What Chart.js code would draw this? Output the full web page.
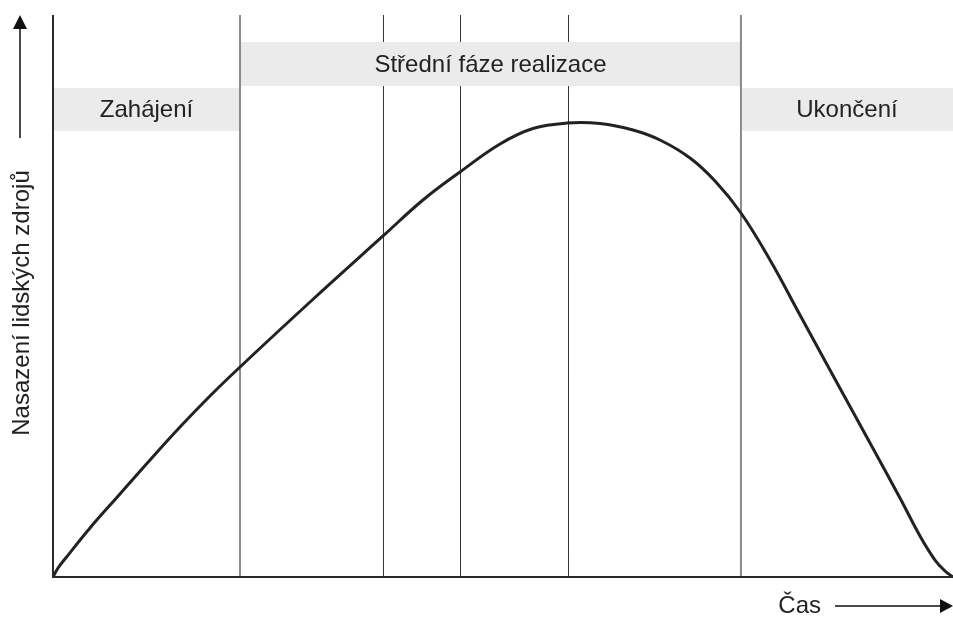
<!DOCTYPE html>
<html>
<head>
<meta charset="utf-8">
<script src="https://cdn.jsdelivr.net/npm/chart.js@4/dist/chart.umd.min.js"></script>
<style>
  html, body { margin: 0; padding: 0; background: #fff; }
  #wrap { width: 953px; height: 617px; }
</style>
</head>
<body>
<div id="wrap"><canvas id="c" width="953" height="617"></canvas></div>
<script>
// ── data ──
const timeX    = [0, 0.56, 1.33, 4.11, 7.44, 10.78, 14.11, 17.44, 20.78, 28.56, 36.67, 41.11, 45.22, 49.67, 53.33, 57.11, 60.78, 64.44, 67.44, 70.78, 73.56, 76.44, 79.67, 83.0, 86.33, 90.78, 94.11, 96.33, 98.0, 99.11, 100];
const staffing = [0, 1.6, 3.2, 8.72, 14.77, 20.82, 26.69, 32.21, 37.37, 48.93, 60.68, 67.08, 72.06, 77.05, 79.8, 80.78, 80.69, 79.54, 77.76, 74.56, 70.46, 64.77, 56.41, 46.62, 36.83, 23.84, 14.06, 7.3, 3.02, 1.07, 0];

const phaseNames = ['Zahájení', 'Střední fáze realizace', 'Ukončení'];
const phaseStart = [0, 20.78, 76.44];
const phaseEnd   = [20.78, 76.44, 100];
const majorBounds = [20.78, 76.44];
const minorBounds = [36.72, 45.28, 57.28];

const yTitle = 'Nasazení lidských zdrojů';
const xTitle = 'Čas';

const INK = '#222';
const FONT = '24px "Liberation Sans", Arial, sans-serif';

function vline(x, color, width) {
    return {
        type: 'line',
        data: [{ x, y: 0 }, { x, y: 100 }],
        borderColor: color,
        borderWidth: width,
        pointRadius: 0,
        tension: 0,
    };
}

const curve = {
    type: 'line',
    data: timeX.map((x, i) => ({ x, y: staffing[i] })),
    borderColor: INK,
    borderWidth: 3,
    pointRadius: 0,
    tension: 0.4,
    clip: false,
};

// dataset order: later indexes are painted first
const datasets = [curve]
    .concat(majorBounds.map(x => vline(x, '#8a8a8a', 2)))
    .concat(minorBounds.map(x => vline(x, '#333', 1)));
const firstMinor = 1 + majorBounds.length;

// ── bands + decorations ──
const phasePlugin = {
    id: 'phases',
    afterDatasetDraw(chart, args, opts) {
        if (args.index !== firstMinor) return; // after all thin lines
        const { ctx, scales: { x } } = chart;
        ctx.save();
        ctx.font = FONT;
        ctx.textAlign = 'center';
        ctx.textBaseline = 'middle';
        phaseNames.forEach((name, i) => {
            const x0 = x.getPixelForValue(phaseStart[i]);
            const x1 = x.getPixelForValue(phaseEnd[i]);
            const [top, bottom] = opts.rows[i];
            ctx.fillStyle = '#ebebeb';
            ctx.fillRect(x0, top, x1 - x0, bottom - top);
            ctx.fillStyle = INK;
            ctx.fillText(name, (x0 + x1) / 2, (top + bottom) / 2 + 1);
        });
        ctx.restore();
    },
    afterDraw(chart) {
        const { ctx, chartArea: a } = chart;
        ctx.save();
        // axes
        ctx.strokeStyle = '#2a2a2a';
        ctx.lineWidth = 2;
        ctx.beginPath();
        ctx.moveTo(a.left, a.top);
        ctx.lineTo(a.left, a.bottom);
        ctx.lineTo(a.right, a.bottom);
        ctx.stroke();

        // arrows
        ctx.fillStyle = '#111';
        ctx.strokeStyle = '#111';
        ctx.lineWidth = 1.5;
        ctx.beginPath();
        ctx.moveTo(20, 138);
        ctx.lineTo(20, 28);
        ctx.moveTo(835, 606);
        ctx.lineTo(942, 606);
        ctx.stroke();
        ctx.beginPath();
        ctx.moveTo(20, 15); ctx.lineTo(13, 29); ctx.lineTo(27, 29);
        ctx.closePath(); ctx.fill();
        ctx.beginPath();
        ctx.moveTo(953, 606); ctx.lineTo(940, 599); ctx.lineTo(940, 613);
        ctx.closePath(); ctx.fill();

        // titles
        ctx.fillStyle = INK;
        ctx.font = FONT;
        ctx.textBaseline = 'middle';
        ctx.textAlign = 'right';
        ctx.fillText(xTitle, 821, 606);
        ctx.translate(22, 303);
        ctx.rotate(-Math.PI / 2);
        ctx.textAlign = 'center';
        ctx.fillText(yTitle, 0, 0);
        ctx.restore();
    }
};

new Chart(document.getElementById('c'), {
    type: 'line',
    data: { datasets },
    options: {
        responsive: false,
        animation: false,
        layout: { padding: { left: 53, top: 15, right: 0, bottom: 40 } },
        plugins: {
            legend: { display: false },
            tooltip: { enabled: false },
            phases: { rows: [[88, 131], [42, 86], [88, 131]] },
        },
        scales: {
            x: { type: 'linear', min: 0, max: 100, display: false },
            y: { type: 'linear', min: 0, max: 100, display: false },
        },
    },
    plugins: [phasePlugin],
});
</script>
</body>
</html>
